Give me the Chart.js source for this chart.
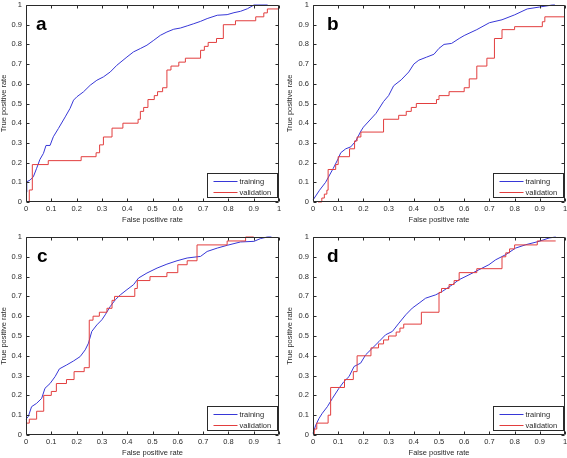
<!DOCTYPE html>
<html>
<head>
<meta charset="utf-8">
<script src="https://cdn.jsdelivr.net/npm/chart.js@4.4.1/dist/chart.umd.min.js"></script>
<style>
html,body{margin:0;padding:0;background:#fff;overflow:hidden;width:567px;height:458px;}
canvas{position:absolute;}
</style>
</head>
<body>
<canvas id="ca"></canvas>
<canvas id="cb"></canvas>
<canvas id="cc"></canvas>
<canvas id="cd"></canvas>
<script>
// ---------- data ----------
const tickValues = [0, 0.1, 0.2, 0.3, 0.4, 0.5, 0.6, 0.7, 0.8, 0.9, 1];
const tickLabels = ['0', '0.1', '0.2', '0.3', '0.4', '0.5', '0.6', '0.7', '0.8', '0.9', '1'];
const seriesNames = ['training', 'validation'];
const panelLetters = ['a', 'b', 'c', 'd'];
const xTitle = 'False positive rate';
const yTitle = 'True positive rate';

// panel a
const aTrainFpr = [0, 0.003, 0.016, 0.029, 0.042, 0.055, 0.069, 0.079, 0.095, 0.108, 0.128, 0.155, 0.174, 0.188, 0.201, 0.227, 0.254, 0.280, 0.306, 0.333, 0.359, 0.399, 0.425, 0.452, 0.478, 0.505, 0.531, 0.557, 0.584, 0.610, 0.637, 0.663, 0.690, 0.716, 0.756, 0.795, 0.822, 0.848, 0.875, 0.901, 0.955];
const aTrainTpr = [0.05, 0.103, 0.111, 0.128, 0.171, 0.216, 0.247, 0.287, 0.287, 0.331, 0.373, 0.432, 0.475, 0.517, 0.534, 0.559, 0.593, 0.618, 0.635, 0.660, 0.694, 0.736, 0.762, 0.779, 0.796, 0.821, 0.846, 0.863, 0.877, 0.883, 0.894, 0.905, 0.917, 0.931, 0.948, 0.951, 0.961, 0.968, 0.981, 1.0, 1.0];
const aValidFpr = [0.013, 0.013, 0.025, 0.088, 0.218, 0.277, 0.291, 0.306, 0.34, 0.383, 0.443, 0.452, 0.465, 0.482, 0.507, 0.52, 0.54, 0.557, 0.573, 0.604, 0.63, 0.69, 0.705, 0.72, 0.753, 0.78, 0.828, 0.908, 0.94, 0.954, 1.0];
const aValidTpr = [0, 0.061, 0.19, 0.21, 0.23, 0.25, 0.29, 0.33, 0.375, 0.40, 0.42, 0.46, 0.48, 0.52, 0.54, 0.56, 0.58, 0.67, 0.69, 0.71, 0.73, 0.77, 0.79, 0.81, 0.83, 0.90, 0.92, 0.94, 0.96, 0.98, 0.98];

// panel b
const bTrainFpr = [0, 0.026, 0.05, 0.08, 0.1, 0.11, 0.13, 0.15, 0.17, 0.19, 0.2, 0.25, 0.28, 0.3, 0.32, 0.35, 0.38, 0.4, 0.42, 0.45, 0.48, 0.5, 0.52, 0.55, 0.58, 0.6, 0.65, 0.7, 0.75, 0.8, 0.85, 0.9, 0.95, 0.96];
const bTrainTpr = [0.01, 0.06, 0.10, 0.17, 0.22, 0.25, 0.27, 0.28, 0.31, 0.36, 0.38, 0.45, 0.51, 0.54, 0.59, 0.62, 0.66, 0.70, 0.72, 0.735, 0.75, 0.78, 0.80, 0.805, 0.83, 0.845, 0.875, 0.91, 0.925, 0.95, 0.98, 0.99, 1.0, 1.0];
const bValidFpr = [0.02, 0.035, 0.045, 0.055, 0.06, 0.09, 0.1, 0.145, 0.165, 0.175, 0.19, 0.28, 0.34, 0.37, 0.39, 0.41, 0.49, 0.5, 0.54, 0.6, 0.62, 0.65, 0.69, 0.72, 0.75, 0.8, 0.91, 0.92, 1.0];
const bValidTpr = [0, 0.02, 0.04, 0.06, 0.165, 0.19, 0.23, 0.27, 0.31, 0.33, 0.355, 0.42, 0.44, 0.46, 0.48, 0.50, 0.52, 0.54, 0.56, 0.58, 0.625, 0.69, 0.73, 0.83, 0.875, 0.89, 0.915, 0.94, 0.94];

// panel c
const cTrainFpr = [0, 0.009, 0.022, 0.042, 0.062, 0.075, 0.095, 0.115, 0.132, 0.161, 0.188, 0.214, 0.234, 0.247, 0.26, 0.28, 0.30, 0.313, 0.333, 0.353, 0.373, 0.399, 0.425, 0.445, 0.478, 0.518, 0.557, 0.597, 0.637, 0.69, 0.716, 0.756, 0.795, 0.848, 0.901, 0.927, 0.954, 0.97];
const cTrainTpr = [0.08, 0.093, 0.143, 0.16, 0.185, 0.236, 0.26, 0.295, 0.334, 0.354, 0.374, 0.396, 0.43, 0.464, 0.523, 0.556, 0.582, 0.607, 0.649, 0.683, 0.708, 0.734, 0.759, 0.793, 0.818, 0.843, 0.863, 0.88, 0.894, 0.902, 0.927, 0.944, 0.958, 0.975, 0.978, 0.992, 1.0, 1.0];
const cValidFpr = [0, 0.013, 0.042, 0.07, 0.1, 0.12, 0.16, 0.19, 0.23, 0.25, 0.265, 0.29, 0.32, 0.34, 0.35, 0.43, 0.44, 0.49, 0.557, 0.6, 0.637, 0.676, 0.795, 0.868, 0.9];
const cValidTpr = [0.06, 0.08, 0.12, 0.20, 0.22, 0.26, 0.28, 0.32, 0.34, 0.58, 0.60, 0.62, 0.64, 0.68, 0.70, 0.74, 0.78, 0.80, 0.82, 0.86, 0.88, 0.96, 0.98, 1.0, 1.0];

// panel d
const dTrainFpr = [0, 0.011, 0.024, 0.037, 0.057, 0.077, 0.103, 0.123, 0.143, 0.163, 0.189, 0.209, 0.235, 0.262, 0.288, 0.315, 0.341, 0.368, 0.394, 0.421, 0.447, 0.487, 0.513, 0.553, 0.579, 0.619, 0.659, 0.698, 0.725, 0.765, 0.804, 0.844, 0.897, 0.937, 0.963];
const dTrainTpr = [0.008, 0.05, 0.084, 0.11, 0.143, 0.185, 0.236, 0.27, 0.295, 0.346, 0.363, 0.405, 0.438, 0.472, 0.506, 0.523, 0.565, 0.607, 0.641, 0.666, 0.691, 0.708, 0.725, 0.759, 0.784, 0.809, 0.835, 0.86, 0.885, 0.911, 0.944, 0.961, 0.978, 0.995, 1.0];
const dValidFpr = [0.005, 0.005, 0.015, 0.06, 0.07, 0.125, 0.16, 0.175, 0.23, 0.26, 0.28, 0.3, 0.33, 0.345, 0.36, 0.43, 0.5, 0.51, 0.54, 0.56, 0.58, 0.65, 0.75, 0.765, 0.78, 0.8, 0.89, 0.963];
const dValidTpr = [0, 0.03, 0.06, 0.10, 0.24, 0.28, 0.32, 0.40, 0.44, 0.46, 0.48, 0.50, 0.52, 0.54, 0.56, 0.62, 0.72, 0.74, 0.76, 0.78, 0.82, 0.84, 0.90, 0.92, 0.94, 0.96, 0.98, 0.98];

// ---------- layout / style ----------
const FONT = '"Liberation Sans", Arial, Helvetica, sans-serif';
const BLUE = 'rgb(55,55,215)';
const RED = 'rgb(226,62,62)';
const SERIES_COLORS = [BLUE, RED];
const INK = '#2a2a2a';

const panels = [
  {id: 'ca', left: 0,   top: 0,   w: 284, h: 228, plot: {l: 26,  t: 5,   r: 279, b: 202}, xTitleY: 219.5, yTitleX: 3.5, letterDx: 10,
   train: [aTrainFpr, aTrainTpr], valid: [aValidFpr, aValidTpr]},
  {id: 'cb', left: 285, top: 0,   w: 282, h: 228, plot: {l: 313, t: 5,   r: 565, b: 202}, xTitleY: 219.5, yTitleX: 290, letterDx: 14,
   train: [bTrainFpr, bTrainTpr], valid: [bValidFpr, bValidTpr]},
  {id: 'cc', left: 0,   top: 231, w: 284, h: 227, plot: {l: 26,  t: 237, r: 279, b: 435}, xTitleY: 452.5, yTitleX: 3.5, letterDx: 11,
   train: [cTrainFpr, cTrainTpr], valid: [cValidFpr, cValidTpr]},
  {id: 'cd', left: 285, top: 231, w: 282, h: 227, plot: {l: 313, t: 237, r: 565, b: 435}, xTitleY: 452.5, yTitleX: 290, letterDx: 14,
   train: [dTrainFpr, dTrainTpr], valid: [dValidFpr, dValidTpr]}
];

Chart.defaults.font.family = FONT;
Chart.defaults.color = INK;

const toPoints = (xs, ys) => xs.map((x, i) => ({x: x, y: ys[i]}));

const framePlugin = {
  id: 'matlabFrame',
  afterDatasetsDraw(chart, args, opts) {
    const ctx = chart.ctx;
    const ca = chart.chartArea;
    const xs = chart.scales.x, ys = chart.scales.y;
    const L = ca.left + 0.5, R = ca.right - 0.5, T = ca.top + 0.5, B = ca.bottom - 0.5;
    const tl = 3;
    ctx.save();
    ctx.strokeStyle = INK;
    ctx.lineWidth = 1;
    ctx.beginPath();
    ctx.rect(L, T, R - L, B - T);
    xs.ticks.forEach(t => {
      const px = Math.round(xs.getPixelForValue(t.value)) + 0.5;
      ctx.moveTo(px, B); ctx.lineTo(px, B - tl);
      ctx.moveTo(px, T); ctx.lineTo(px, T + tl);
    });
    ys.ticks.forEach(t => {
      const py = Math.round(ys.getPixelForValue(t.value)) + 0.5;
      ctx.moveTo(L, py); ctx.lineTo(L + tl, py);
      ctx.moveTo(R, py); ctx.lineTo(R - tl, py);
    });
    ctx.stroke();

    // panel letter
    ctx.fillStyle = '#000';
    ctx.font = 'bold 19px ' + FONT;
    ctx.textBaseline = 'alphabetic';
    ctx.textAlign = 'left';
    ctx.fillText(opts.letter, ca.left + opts.letterDx, ca.top + 25);

    // legend box (bottom-right, inside axes)
    const bw = 70, bh = 24;
    const bx = Math.round(ca.right - 72) + 0.5;
    const by = Math.round(ca.bottom - 29) + 0.5;
    ctx.fillStyle = '#fff';
    ctx.fillRect(bx, by, bw, bh);
    ctx.strokeStyle = INK;
    ctx.lineWidth = 1;
    ctx.strokeRect(bx, by, bw, bh);
    ctx.font = '7.5px ' + FONT;
    ctx.textBaseline = 'middle';
    const rows = [7.5, 18];
    chart.data.datasets.forEach((ds, i) => {
      const yy = Math.round(by + rows[i]) + 0.5;
      ctx.beginPath();
      ctx.strokeStyle = SERIES_COLORS[i];
      ctx.lineWidth = 1;
      ctx.moveTo(bx + 6, yy);
      ctx.lineTo(bx + 30, yy);
      ctx.stroke();
      ctx.fillStyle = INK;
      ctx.fillText(ds.label, bx + 32, yy);
    });
    ctx.restore();
  }
};

panels.forEach((p, k) => {
  const cv = document.getElementById(p.id);
  cv.width = p.w; cv.height = p.h;
  cv.style.left = p.left + 'px'; cv.style.top = p.top + 'px';
  cv.style.width = p.w + 'px'; cv.style.height = p.h + 'px';
  const yW = p.plot.l - p.left;
  const xH = p.top + p.h - p.plot.b;
  const padTop = p.plot.t - p.top;
  const padRight = p.left + p.w - p.plot.r;
  const fontSmall = {size: 7.5, family: FONT, lineHeight: 1.2};
  const half = 7.5 * 1.2 / 2;
  new Chart(cv, {
    type: 'line',
    data: {
      datasets: [
        {label: seriesNames[0], data: toPoints(p.train[0], p.train[1]), borderColor: SERIES_COLORS[0], borderWidth: 1, pointRadius: 0, tension: 0, fill: false, order: 1, clip: false},
        {label: seriesNames[1], data: toPoints(p.valid[0], p.valid[1]), borderColor: SERIES_COLORS[1], borderWidth: 1, pointRadius: 0, stepped: true, fill: false, order: 0, clip: false}
      ]
    },
    options: {
      responsive: false,
      animation: false,
      devicePixelRatio: 1,
      events: [],
      layout: {padding: {left: 0, top: padTop, right: padRight, bottom: 0}},
      plugins: {
        legend: {display: false},
        tooltip: {enabled: false},
        matlabFrame: {letter: panelLetters[k], letterDx: p.letterDx}
      },
      scales: {
        x: {
          type: 'linear', min: 0, max: 1,
          grid: {display: false, drawTicks: false},
          border: {display: false},
          afterBuildTicks: s => { s.ticks = tickValues.map(v => ({value: v})); },
          ticks: {font: fontSmall, color: INK, padding: 2.5, autoSkip: false, maxRotation: 0, minRotation: 0,
                  callback: (v, i) => tickLabels[i]},
          title: {display: true, text: xTitle, font: fontSmall, color: INK,
                  padding: {top: 0, bottom: (p.top + p.h) - p.xTitleY - half}},
          afterFit: s => { s.height = xH; s.paddingLeft = 0; s.paddingRight = 0; }
        },
        y: {
          type: 'linear', min: 0, max: 1,
          grid: {display: false, drawTicks: false},
          border: {display: false},
          afterBuildTicks: s => { s.ticks = tickValues.map(v => ({value: v})); },
          ticks: {font: fontSmall, color: INK, padding: 4, autoSkip: false,
                  callback: (v, i) => tickLabels[i]},
          title: {display: true, text: yTitle, font: fontSmall, color: INK,
                  padding: {top: p.yTitleX - p.left - half, bottom: 0}},
          afterFit: s => { s.width = yW; s.paddingTop = 0; s.paddingBottom = 0; }
        }
      }
    },
    plugins: [framePlugin]
  });
});
</script>
</body>
</html>
